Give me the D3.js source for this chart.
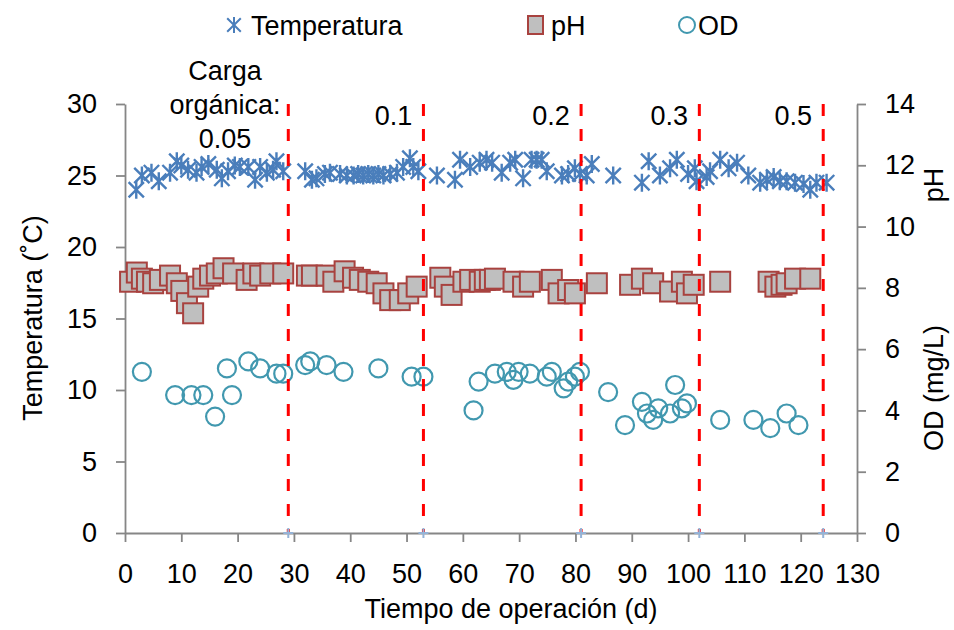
<!DOCTYPE html>
<html>
<head>
<meta charset="utf-8">
<script src="https://cdn.jsdelivr.net/npm/d3@7"></script>
<style>
  body { margin: 0; background: #fff; }
  svg text { font-family: "Liberation Sans", Arial, sans-serif; fill: #000; }
</style>
</head>
<body>
<script>
'use strict';

// temperatura (left axis)
let tempDays = [2, 3, 4.7, 6, 8, 9.2, 10, 11.2, 12.7, 13.6, 14.8, 16.3, 17.2, 18.3, 19.5, 20.4, 21.9, 23.1, 24, 25.2, 26.3, 26.9, 28.1,
  32, 33.2, 34, 35.5, 36.4, 38.2, 39.4, 40.6, 41.4, 42.3, 43.2, 44.1, 45, 45.9, 47.1, 48.3, 49.4, 50.6, 51.2, 52.1,
  55.4, 58.6, 59.5, 61.3, 63, 64.2, 65.2, 66.9, 68.4, 69.3, 70.7, 72.2, 73.1, 74, 74.9, 77.6, 78.7, 79.9, 80.8,
  82, 82.9, 86.7, 91.8, 93, 95, 96.8, 98, 100, 101.2, 101.5,
  103.3, 103.9, 105.7, 107.2, 108.7, 110.7, 112.8, 114, 115.2, 116.3, 117.5, 119, 120.5, 121.7, 122.8, 124.6];
let tempVals = [24.0, 25.0, 25.2, 24.6, 25.2, 26.0, 25.7, 25.4, 25.2, 25.6, 25.8, 25.4, 24.8, 25.3, 25.7, 25.6, 25.6, 24.7, 25.6, 25.2, 25.4, 26.0, 25.3,
  25.3, 24.7, 24.8, 25.1, 25.2, 25.1, 25.0, 25.0, 25.1, 25.0, 25.1, 25.0, 25.1, 25.0, 25.1, 25.2, 25.6, 26.2, 25.6, 25.3,
  25.0, 24.7, 26.1, 25.6, 25.9, 26.1, 25.9, 25.2, 25.9, 26.1, 24.8, 26.1, 26.1, 26.1, 25.3, 25.0, 25.1, 25.5, 25.1,
  25.0, 25.8, 25.0, 24.5, 26.0, 25.0, 25.5, 26.1, 25.1, 25.5, 24.6,
  24.9, 25.3, 26.1, 25.5, 25.9, 25.0, 24.5, 24.7, 24.9, 24.6, 24.6, 24.5, 24.4, 24.0, 24.5, 24.5];

// pH (right axis)
let phDays = [0.9, 2.1, 3, 3.9, 5, 6.2, 8, 9.2, 10, 11, 12.1, 13, 13.9, 15.1, 16.3, 17.5, 19.2, 21.6, 22.8, 24, 25.8, 28.1,
  32.3, 33.2, 35.8, 37, 39, 40.5, 41.7, 43.2, 44.7, 45.9, 47.1, 48.8, 50.3, 51.8,
  56, 56.8, 58, 60.1, 61.3, 63, 63.9, 64.8, 65.7, 69, 70.7, 71.9, 75.8, 77, 78.7, 79.9,
  83.8, 89.7, 91.8, 93.8, 96.8, 98.9, 99.8, 101, 105.7, 114.3, 115.5, 116.6, 117.5, 119, 121.7];
let phVals = [8.2, 8.5, 8.3, 8.2, 8.15, 8.26, 8.4, 8.15, 7.9, 7.5, 7.17, 8.04, 8.3, 8.4, 8.47, 8.64, 8.47, 8.26, 8.47, 8.4, 8.47, 8.47,
  8.4, 8.4, 8.4, 8.2, 8.54, 8.33, 8.26, 8.2, 8.15, 7.82, 7.6, 7.6, 7.82, 8.04,
  8.33, 8.04, 7.77, 8.2, 8.26, 8.2, 8.26, 8.26, 8.3, 8.2, 8.04, 8.2, 8.26, 7.82, 7.93, 7.82,
  8.15, 8.1, 8.3, 8.15, 7.88, 8.2, 7.82, 8.1, 8.2, 8.2, 8.04, 8.1, 8.15, 8.3, 8.3];

// OD (right axis, mg/L)
let odDays = [3, 8.9, 11.8, 13.9, 16, 18.1, 19, 21.9, 24, 26.9, 28.1, 32, 32.9, 35.8, 38.8, 45, 50.9, 53,
  61.9, 62.8, 65.7, 67.8, 69, 69.9, 71.9, 74.9, 75.8, 77.9, 78.7, 79.9, 80.8,
  85.8, 88.8, 91.8, 92.7, 93.8, 94.7, 96.8, 97.7, 98.9, 99.8, 105.7, 111.6, 114.6, 117.5, 119.6];
let odVals = [5.26, 4.5, 4.5, 4.5, 3.8, 5.37, 4.5, 5.6, 5.37, 5.2, 5.2, 5.48, 5.6, 5.48, 5.26, 5.37, 5.1, 5.1,
  4.0, 4.94, 5.2, 5.26, 5.0, 5.26, 5.2, 5.1, 5.26, 4.72, 4.94, 5.1, 5.26,
  4.6, 3.52, 4.28, 3.9, 3.69, 4.07, 3.9, 4.83, 4.07, 4.23, 3.69, 3.69, 3.42, 3.9, 3.52];

// cambios de carga orgánica
let loadDays = [29, 53, 81, 102, 124];
let loadLabels = ['0.1', '0.2', '0.3', '0.5'];
let firstLoadLabel = ['Carga', 'orgánica:', '0.05'];

let xTicks = d3.range(0, 131, 10);
let leftTicks = [0, 5, 10, 15, 20, 25, 30];
let rightTicks = [0, 2, 4, 6, 8, 10, 12, 14];

let axisColor = '#868686';
let fontSize = '27px';

let svg = d3.select('body').append('svg')
  .attr('width', 954)
  .attr('height', 630);

let xScale = d3.scaleLinear().domain([0, 130]).range([125, 857]);
let yLeft = d3.scaleLinear().domain([0, 30]).range([533, 104]);
let yRight = d3.scaleLinear().domain([0, 14]).range([533, 104]);

function starPath(s) {
  let d = s * 0.85;
  return 'M' + (-d) + ',' + (-d) + 'L' + d + ',' + d +
    'M' + (-d) + ',' + d + 'L' + d + ',' + (-d) +
    'M0,' + (-s) + 'L0,' + s;
}

function drawAxes() {
  let xAxis = d3.axisBottom(xScale).tickValues(xTicks).tickSize(9).tickPadding(22).tickSizeOuter(0);
  let lAxis = d3.axisLeft(yLeft).tickValues(leftTicks).tickSize(9).tickPadding(19).tickSizeOuter(0);
  let rAxis = d3.axisRight(yRight).tickValues(rightTicks).tickSize(9).tickPadding(19).tickSizeOuter(0);

  let gx = svg.append('g').attr('transform', 'translate(0,' + yLeft(0) + ')').call(xAxis);
  let gl = svg.append('g').attr('transform', 'translate(' + xScale(0) + ',0)').call(lAxis);
  let gr = svg.append('g').attr('transform', 'translate(' + xScale(130) + ',0)').call(rAxis);

  [gx, gl, gr].forEach((g) => {
    g.selectAll('path, line').attr('stroke', axisColor).attr('stroke-width', 1.8);
    g.selectAll('text').style('font-size', fontSize).attr('fill', '#000')
      .style('font-family', '"Liberation Sans", Arial, sans-serif');
  });
}

function drawSeries() {
  let tData = tempDays.map((d, i) => ({ x: d, y: tempVals[i] }));
  let pData = phDays.map((d, i) => ({ x: d, y: phVals[i] }));
  let oData = odDays.map((d, i) => ({ x: d, y: odVals[i] }));

  svg.append('g').selectAll('path')
    .data(tData)
    .enter()
    .append('path')
      .attr('transform', (d) => 'translate(' + xScale(d.x) + ',' + yLeft(d.y) + ')')
      .attr('d', starPath(9))
      .attr('stroke', '#4A7EBB')
      .attr('stroke-width', 2.4)
      .attr('fill', 'none');

  svg.append('g').selectAll('rect')
    .data(pData)
    .enter()
    .append('rect')
      .attr('x', (d) => xScale(d.x) - 10)
      .attr('y', (d) => yRight(d.y) - 10)
      .attr('width', 20)
      .attr('height', 20)
      .attr('fill', '#BFBFBF')
      .attr('stroke', '#A8423F')
      .attr('stroke-width', 2);

  svg.append('g').selectAll('circle')
    .data(oData)
    .enter()
    .append('circle')
      .attr('cx', (d) => xScale(d.x))
      .attr('cy', (d) => yRight(d.y))
      .attr('r', 9)
      .attr('fill', 'none')
      .attr('stroke', '#4198AF')
      .attr('stroke-width', 2.2);
}

function drawLoads() {
  svg.append('g').selectAll('line')
    .data(loadDays)
    .enter()
    .append('line')
      .attr('x1', (d) => xScale(d))
      .attr('x2', (d) => xScale(d))
      .attr('y1', yLeft(30))
      .attr('y2', yLeft(0))
      .attr('stroke', '#FF0000')
      .attr('stroke-width', 3)
      .attr('stroke-dasharray', '12,13');

  // small markers at the base of each line
  svg.append('g').selectAll('path')
    .data(loadDays)
    .enter()
    .append('path')
      .attr('transform', (d) => 'translate(' + xScale(d) + ',' + yLeft(0) + ')')
      .attr('d', 'M-5,0L5,0M0,-5L0,5')
      .attr('stroke', '#95B3D7')
      .attr('stroke-width', 2);

  svg.append('g').selectAll('text')
    .data(firstLoadLabel)
    .enter()
    .append('text')
      .attr('x', 225)
      .attr('y', (d, i) => 80 + i * 34)
      .attr('text-anchor', 'middle')
      .style('font-size', fontSize)
      .text((d) => d);

  svg.append('g').selectAll('text')
    .data(loadLabels)
    .enter()
    .append('text')
      .attr('x', (d, i) => xScale(loadDays[i + 1]) - 30)
      .attr('y', 125)
      .attr('text-anchor', 'middle')
      .style('font-size', fontSize)
      .text((d) => d);
}

function makeLabels() {
  svg.append('text')
    .attr('x', 511)
    .attr('y', 618)
    .attr('text-anchor', 'middle')
    .style('font-size', fontSize)
    .text('Tiempo de operación (d)');

  svg.append('text')
    .attr('transform', 'translate(42, 318)rotate(-90)')
    .attr('text-anchor', 'middle')
    .style('font-size', fontSize)
    .text('Temperatura (˚C)');

  svg.append('text')
    .attr('transform', 'translate(943, 185)rotate(-90)')
    .attr('text-anchor', 'middle')
    .style('font-size', fontSize)
    .text('pH');

  svg.append('text')
    .attr('transform', 'translate(943, 388)rotate(-90)')
    .attr('text-anchor', 'middle')
    .style('font-size', fontSize)
    .text('OD (mg/L)');
}

function makeLegend() {
  let ly = 25;
  svg.append('path')
    .attr('transform', 'translate(234,' + ly + ')')
    .attr('d', starPath(8))
    .attr('stroke', '#4A7EBB')
    .attr('stroke-width', 2)
    .attr('fill', 'none');
  svg.append('text').attr('x', 251).attr('y', ly + 10).style('font-size', fontSize).text('Temperatura');

  svg.append('rect')
    .attr('x', 528).attr('y', ly - 9).attr('width', 15).attr('height', 18)
    .attr('fill', '#BFBFBF').attr('stroke', '#A8423F').attr('stroke-width', 2);
  svg.append('text').attr('x', 551).attr('y', ly + 10).style('font-size', fontSize).text('pH');

  svg.append('circle')
    .attr('cx', 687).attr('cy', ly).attr('r', 8)
    .attr('fill', 'none').attr('stroke', '#4198AF').attr('stroke-width', 2);
  svg.append('text').attr('x', 698).attr('y', ly + 10).style('font-size', fontSize).text('OD');
}

drawAxes();
drawSeries();
drawLoads();
makeLabels();
makeLegend();
</script>
</body>
</html>
